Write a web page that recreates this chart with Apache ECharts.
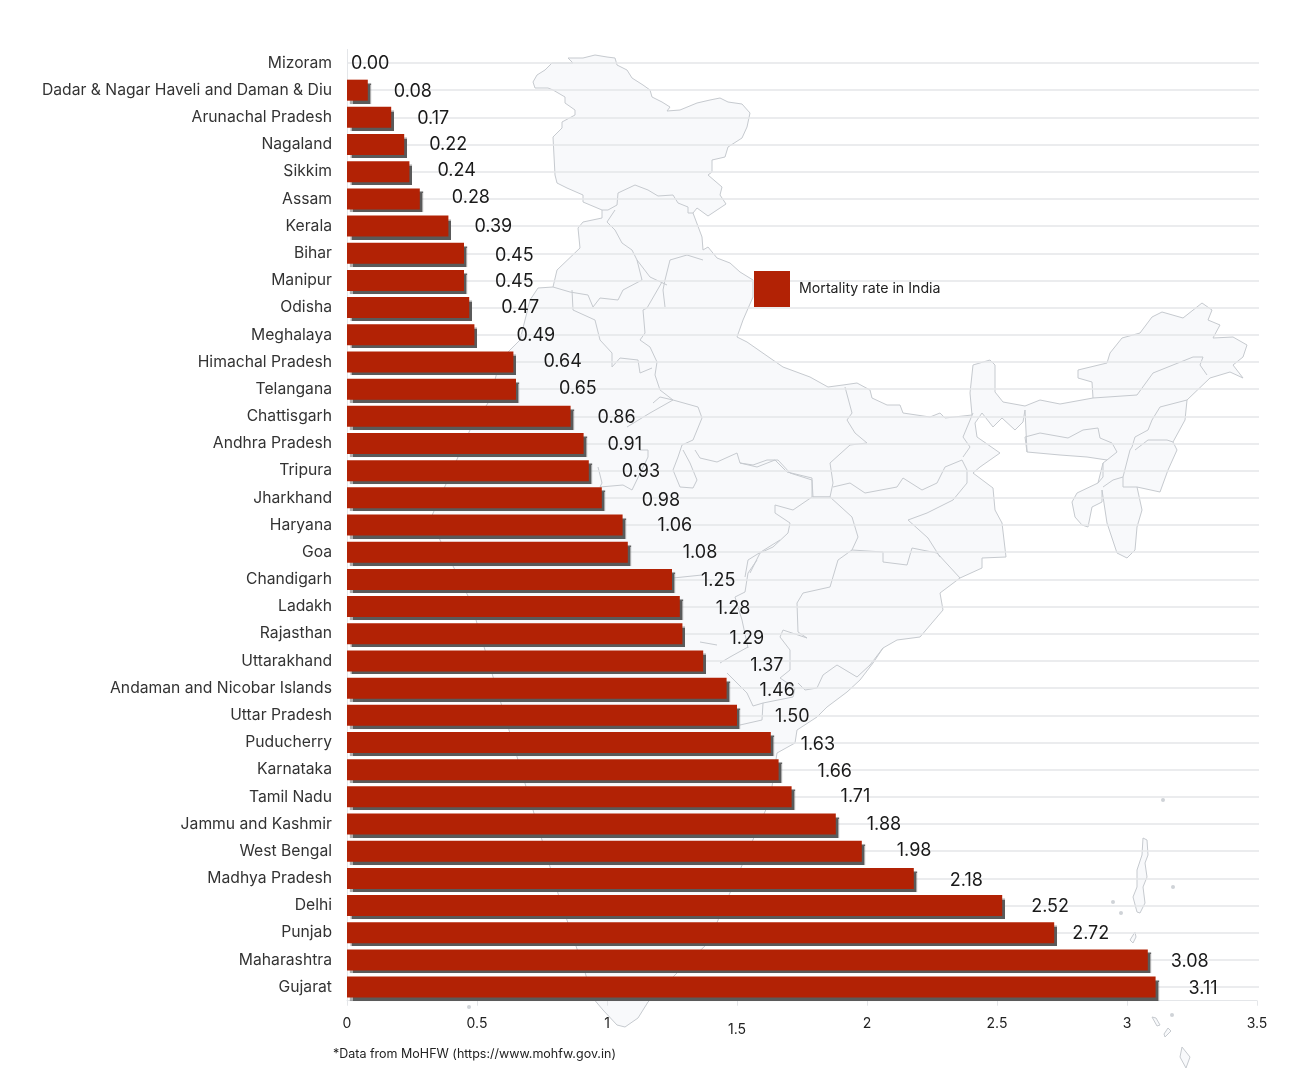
<!DOCTYPE html>
<html>
<head>
<meta charset="utf-8" />
<title>Mortality rate in India</title>
<script src="https://cdn.jsdelivr.net/npm/echarts@6/dist/echarts.min.js"></script>
<style>
html,body{margin:0;padding:0;background:#fff}
</style>
</head>
<body>
<div id="main" style="width:1305px;height:1080px;"></div>
<script type="text/javascript">
// chart data, top row first
var states = ['Mizoram','Dadar & Nagar Haveli and Daman & Diu','Arunachal Pradesh','Nagaland','Sikkim','Assam','Kerala','Bihar','Manipur','Odisha','Meghalaya','Himachal Pradesh','Telangana','Chattisgarh','Andhra Pradesh','Tripura','Jharkhand','Haryana','Goa','Chandigarh','Ladakh','Rajasthan','Uttarakhand','Andaman and Nicobar Islands','Uttar Pradesh','Puducherry','Karnataka','Tamil Nadu','Jammu and Kashmir','West Bengal','Madhya Pradesh','Delhi','Punjab','Maharashtra','Gujarat'];
var mortality = [0.00,0.08,0.17,0.22,0.24,0.28,0.39,0.45,0.45,0.47,0.49,0.64,0.65,0.86,0.91,0.93,0.98,1.06,1.08,1.25,1.28,1.29,1.37,1.46,1.50,1.63,1.66,1.71,1.88,1.98,2.18,2.52,2.72,3.08,3.11];
var seriesName = 'Mortality rate in India';

// the value labels sit unevenly in the picture
var labelDx = [4,26,26,25,28,32,26,31,31,32,42,30,43,27,24,33,40,35,55,29,36,47,47,33,38,30,39,49,31,35,36,29,18,23,33];
var labelDy = [1,1,1,0,-1,-1,1,2,1,0,1,0,-1,1,1,1,3,1,0,1,2,5,5,2,1,2,2,0,1,-1,2,1,1,2,1];

// backdrop map, page pixels
var indiaOutline = [[533,82],[537,75],[545,70],[552,63],[573,63],[568,58],[583,58],[595,55],[607,57],[615,58],[617,65],[627,70],[632,78],[643,85],[650,90],[652,97],[662,102],[670,107],[667,111],[680,110],[697,103],[710,100],[720,98],[728,102],[742,104],[750,113],[747,127],[742,138],[728,147],[725,157],[712,160],[712,172],[708,175],[722,187],[720,195],[726,204],[708,216],[697,208],[693,213],[702,237],[703,250],[708,247],[717,258],[730,263],[740,272],[753,280],[753,297],[743,320],[737,337],[747,342],[770,358],[783,367],[810,377],[828,387],[843,385],[857,383],[870,390],[872,398],[887,405],[900,405],[903,413],[930,417],[940,413],[945,418],[972,415],[970,393],[973,365],[990,360],[995,365],[995,392],[1003,402],[1025,406],[1040,400],[1060,404],[1093,398],[1092,382],[1078,378],[1078,370],[1107,363],[1110,353],[1122,338],[1140,333],[1152,317],[1162,312],[1183,318],[1202,303],[1212,310],[1208,320],[1220,325],[1213,338],[1233,337],[1247,345],[1243,357],[1233,365],[1243,378],[1230,372],[1210,378],[1187,400],[1185,420],[1173,442],[1177,450],[1168,470],[1160,492],[1137,487],[1142,510],[1137,527],[1135,550],[1127,558],[1117,553],[1107,523],[1102,490],[1102,502],[1092,507],[1088,527],[1082,525],[1075,517],[1072,502],[1077,493],[1098,483],[1103,463],[1107,460],[1087,457],[1060,455],[1027,452],[1025,410],[1023,422],[1015,430],[1002,418],[993,427],[982,413],[975,423],[977,437],[1000,453],[980,467],[973,473],[993,488],[995,510],[1002,523],[1006,557],[982,558],[982,568],[960,578],[940,593],[943,610],[920,637],[897,640],[883,648],[873,663],[860,680],[847,692],[827,707],[817,717],[797,730],[795,743],[777,753],[770,800],[740,870],[708,943],[678,972],[648,1002],[638,1018],[625,1027],[617,1025],[603,1010],[592,997],[585,972],[560,900],[530,800],[500,700],[470,600],[430,520],[470,430],[490,400],[500,360],[520,340],[530,300],[538,288],[553,287],[557,270],[580,248],[578,228],[583,222],[602,218],[602,210],[583,202],[583,195],[567,188],[557,183],[555,175],[553,137],[562,128],[562,122],[575,115],[575,110],[565,103],[565,97],[553,90],[548,88],[535,88]];
var stateBorders = [
  [[602,210],[608,210],[617,205],[618,193],[635,185],[648,190],[658,196],[673,195],[678,203],[688,207],[688,213],[693,213]],
  [[615,210],[607,222],[615,230],[622,243],[632,250],[637,260],[650,277],[667,285]],
  [[703,260],[687,255],[670,260],[665,280],[663,290],[665,307]],
  [[637,260],[642,280],[623,290],[618,300],[600,298],[593,307],[588,295],[570,292],[553,287]],
  [[662,282],[647,308],[643,310],[645,333],[640,340],[650,347],[657,362],[655,375],[660,390],[673,400],[698,407],[702,418],[693,440],[682,445],[678,457],[673,470],[680,487],[693,488],[697,480],[690,463],[683,450]],
  [[572,290],[573,310],[595,320],[600,340],[612,353],[612,367],[620,358],[638,360],[640,373],[652,368]],
  [[653,403],[660,397],[673,400]],
  [[695,450],[700,458],[717,462],[737,453],[740,463],[753,465],[767,460],[778,460],[790,473],[812,480],[813,497],[830,497]],
  [[627,427],[650,413],[673,400]],
  [[640,450],[648,450],[648,457],[632,490],[623,485],[600,487],[602,483],[598,467]],
  [[775,505],[793,510],[812,497]],
  [[775,505],[775,513],[790,523],[788,533],[773,547],[760,553],[750,573]],
  [[845,387],[852,413],[847,420],[855,433],[867,443],[850,445],[830,463],[833,483],[830,497],[812,497],[812,478],[787,472],[775,460],[757,467],[740,463]],
  [[833,487],[850,483],[865,493],[897,487],[903,478],[922,490],[937,483],[945,467],[962,460],[967,470],[967,483]],
  [[973,413],[963,437],[970,447],[963,457]],
  [[830,497],[852,517],[858,537],[852,550],[883,552],[883,562],[907,565],[912,548],[937,553],[960,578]],
  [[967,483],[953,500],[927,513],[908,520],[928,538],[940,557]],
  [[852,550],[838,560],[830,587],[803,593],[797,603],[798,632],[807,638],[783,630],[780,637],[790,650],[790,670],[780,678]],
  [[883,648],[870,665],[857,677],[837,665],[823,675],[817,688],[805,690],[798,683]],
  [[780,678],[795,688],[793,697],[763,703],[753,706]],
  [[763,703],[762,720],[740,725]],
  [[717,645],[700,642]],
  [[720,663],[730,657],[748,647]],
  [[727,673],[747,693],[753,706]],
  [[673,578],[702,575]],
  [[757,560],[748,573],[745,592],[735,597],[742,620],[748,648]],
  [[745,577],[748,560],[780,540]],
  [[1093,398],[1137,395],[1153,373],[1193,357],[1203,357],[1200,365],[1207,375]],
  [[1187,400],[1160,407],[1152,420],[1148,430],[1135,437],[1132,447],[1130,450],[1123,477],[1123,487],[1137,487]],
  [[1135,450],[1148,440],[1167,440],[1173,442]],
  [[1123,477],[1113,480],[1103,487]],
  [[1027,452],[1025,437],[1040,433],[1068,438],[1083,430],[1098,428],[1100,438],[1112,443],[1117,452],[1107,460]],
  [[1103,463],[1103,477],[1098,483]]
];
var islands = [
  [[1143,838],[1147,840],[1148,855],[1145,863],[1147,877],[1143,887],[1145,903],[1140,913],[1137,912],[1133,897],[1137,887],[1137,870],[1142,855]],
  [[1130,940],[1135,932],[1136,937],[1133,943]],
  [[1152,1017],[1156,1018],[1160,1025],[1157,1026]],
  [[1168,1028],[1171,1031],[1165,1037],[1164,1034]],
  [[1182,1047],[1190,1057],[1186,1068],[1180,1057]]
];
var islandDots = [[1163,800],[1173,887],[1113,902],[1121,913],[1172,1015],[469,1007]];

var mapFill = '#f8f9fb', mapStroke = '#c6cacf', lineColor = '#e4e6e9', barColor = '#b22205';

function buildMap() {
  var els = [{
    type: 'polygon', z: -10, silent: true,
    shape: { points: indiaOutline },
    style: { fill: mapFill, stroke: mapStroke, lineWidth: 1 }
  }];
  stateBorders.forEach(function (pts) {
    els.push({ type: 'polyline', z: -9, silent: true, shape: { points: pts }, style: { fill: null, stroke: mapStroke, lineWidth: 1 } });
  });
  islands.forEach(function (pts) {
    els.push({ type: 'polygon', z: -9, silent: true, shape: { points: pts }, style: { fill: mapFill, stroke: mapStroke, lineWidth: 1 } });
  });
  islandDots.forEach(function (p) {
    els.push({ type: 'circle', z: -9, silent: true, shape: { cx: p[0], cy: p[1], r: 2 }, style: { fill: '#cfd3d7' } });
  });
  return els;
}

var barData = mortality.map(function (v, i) {
  return { value: v, label: { offset: [labelDx[i], labelDy[i]] } };
});

var myChart = echarts.init(document.getElementById('main'), null, { renderer: 'canvas' });
var fontName = 'Inter';
myChart.setOption({
  animation: false,
  backgroundColor: '#fff',
  textStyle: { fontFamily: fontName },
  title: {
    text: '*Data from MoHFW (https://www.mohfw.gov.in)',
    left: 333, top: 1048, padding: 0,
    textStyle: { fontSize: 12.5, fontWeight: 'normal', color: '#222', fontFamily: fontName }
  },
  legend: {
    left: 754, top: 271, padding: 0,
    itemWidth: 36, itemHeight: 36, itemGap: 0,
    icon: 'rect',
    data: [seriesName],
    selectedMode: false,
    itemStyle: { shadowBlur: 0, shadowOffsetX: 0, shadowOffsetY: 0, shadowColor: 'transparent' },
    textStyle: { fontSize: 14.2, color: '#222', padding: [4, 0, 0, 4] }
  },
  graphic: buildMap(),
  grid: [
    { left: 347, width: 910, top: 49.4, height: 951.3, containLabel: false },
    { left: 347, width: 912, top: 63, height: 924.1 }
  ],
  xAxis: [{
    type: 'value', gridIndex: 0, min: 0, max: 3.5, interval: 0.5,
    axisLine: { show: true, lineStyle: { color: lineColor } },
    axisTick: { show: true, length: 5, lineStyle: { color: lineColor } },
    splitLine: { show: false },
    axisLabel: {
      margin: 16, fontSize: 14, color: '#222',
      formatter: function (v) { return v === 1.5 ? '{low|1.5}' : String(v); },
      rich: { low: { fontSize: 14, color: '#222', padding: [6, 0, 0, 0] } }
    }
  }, {
    type: 'value', gridIndex: 1, show: false, min: 0, max: 1
  }],
  yAxis: [{
    type: 'category', gridIndex: 0, inverse: true, data: states,
    axisLine: { show: true, lineStyle: { color: lineColor } },
    axisTick: { show: false },
    splitLine: { show: false },
    axisLabel: { margin: 15, fontSize: 15.7, color: '#333', interval: 0 }
  }, {
    // gridlines run through the middle of the bars
    type: 'category', gridIndex: 1, inverse: true, boundaryGap: false, data: states,
    axisLine: { show: false }, axisTick: { show: false }, axisLabel: { show: false },
    splitLine: { show: true, interval: 0, lineStyle: { color: lineColor, width: 1.5 } }
  }],
  series: [{
    name: seriesName,
    type: 'bar',
    xAxisIndex: 0, yAxisIndex: 0,
    barWidth: 21,
    data: barData,
    itemStyle: {
      color: barColor,
      shadowColor: '#5a5a5a', shadowBlur: 1, shadowOffsetX: 3, shadowOffsetY: 3
    },
    label: {
      show: true, position: 'right', distance: 0,
      fontSize: 18, color: '#1a1a1a',
      formatter: function (p) { return p.value.toFixed(2); }
    }
  }, {
    name: 'rows', type: 'line', xAxisIndex: 1, yAxisIndex: 1, data: [], silent: true
  }]
});
</script>
</body>
</html>
